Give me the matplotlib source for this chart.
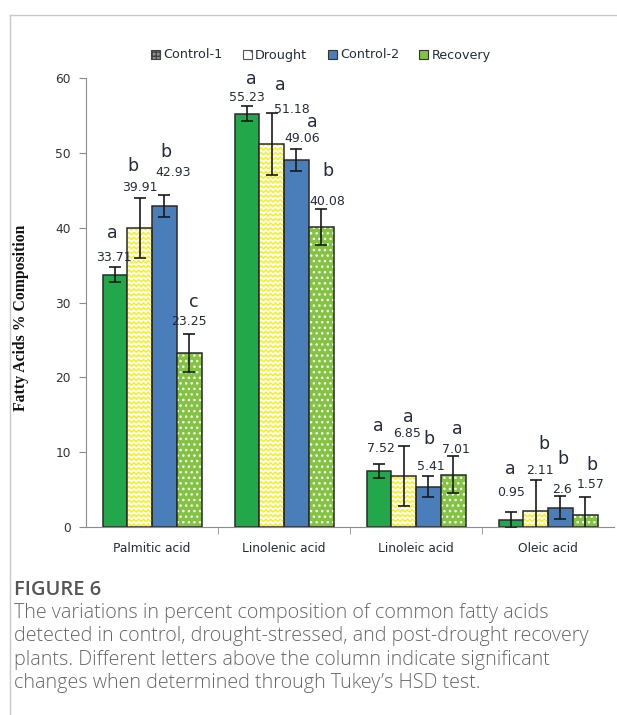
import numpy as np
import matplotlib.pyplot as plt
from matplotlib.patches import Patch
from matplotlib.collections import LineCollection
from matplotlib.lines import Line2D


# Fatty acid composition (%), mean and error per treatment

acids = ['Palmitic acid', 'Linolenic acid', 'Linoleic acid', 'Oleic acid']
series = ['Control-1', 'Drought', 'Control-2', 'Recovery']

control1 = [33.71, 55.23, 7.52, 0.95]
drought = [39.91, 51.18, 6.85, 2.11]
control2 = [42.93, 49.06, 5.41, 2.6]
recovery = [23.25, 40.08, 7.01, 1.57]

control1_err = [1.0, 1.0, 0.95, 1.05]
drought_err = [4.0, 4.1, 4.0, 4.2]
control2_err = [1.45, 1.5, 1.4, 1.5]
recovery_err = [2.6, 2.4, 2.5, 2.5]

control1_grp = ['a', 'a', 'a', 'a']
drought_grp = ['b', 'a', 'a', 'b']
control2_grp = ['b', 'a', 'b', 'b']
recovery_grp = ['c', 'b', 'a', 'b']

yticks = [0, 10, 20, 30, 40, 50, 60]


values = [control1, drought, control2, recovery]
errors = [control1_err, drought_err, control2_err, recovery_err]
groups = [control1_grp, drought_grp, control2_grp, recovery_grp]

# nudges for the number labels / letters (pixels, relative to the error bar top)
val_dx = [[-1, 0, 2, 0], [0, 20, 3, 4], [9, 6, 3, 2], [0, 6, 3, 5]]
val_dy = [[10, 9, 15, 20], [11, 4, 12, 9], [22, 10, 10, 7], [12, 8, 6, 12]]
let_dx = [[-3, 4, -1, -1], [-7, 9, 5, 8], [2, 16, 1, 3], [5, 7, 4, 7]]
let_dy = [[24, 18, 23, 23], [21, 24, 17, 27], [21, 17, 27, 30], [20, 30, 21, 20]]

green = '#22a84a'
blue = '#4a7ebb'
lgreen = '#82c341'
zig_yellow = '#f7ee1c'
edge = '#2a2a2a'
txt = '#232b3c'

W, H = 617, 715
fig = plt.figure(figsize=(W / 100, H / 100), dpi=100)

# page frame
fig.add_artist(Line2D([10 / W, 10 / W], [0, 1 - 15 / H], color='#c8c8c8', lw=1.0))
fig.add_artist(Line2D([10 / W, 1], [1 - 15 / H, 1 - 15 / H], color='#c8c8c8', lw=1.0))

ax = fig.add_axes([86 / W, (H - 527) / H, (614 - 86) / W, (527 - 78) / H])
ax.set_xlim(-0.5, 3.5)
ax.set_ylim(0, 60)

x = np.arange(len(acids))
bw = 0.1875
px_x = 1.0 / 132          # data units per pixel
px_y = 60.0 / 449

for j in range(4):
    xs = x + (j - 1.5) * bw
    v = values[j]
    if j == 0:
        ax.bar(xs, v, bw, color=green, edgecolor=edge, lw=1.1, zorder=2)
    elif j == 2:
        ax.bar(xs, v, bw, color=blue, edgecolor=edge, lw=1.1, zorder=2)
    elif j == 1:
        bars = ax.bar(xs, v, bw, color='white', edgecolor='none', lw=0, zorder=2)
        # zigzag fill
        for b in bars:
            x0, x1 = b.get_x(), b.get_x() + b.get_width()
            h = b.get_height()
            segs = []
            zx = np.arange(x0 - 3 * px_x, x1 + 3 * px_x, 2.4 * px_x)
            for y0 in np.arange(2 * px_y, h + 3 * px_y, 4.7 * px_y):
                zy = y0 + np.where(np.arange(len(zx)) % 2 == 0, 1.1, -1.1) * px_y
                segs.append(np.column_stack([zx, zy]))
            lc = LineCollection(segs, colors=zig_yellow, linewidths=1.1, zorder=2.5)
            ax.add_collection(lc)
            lc.set_clip_path(b)
        ax.bar(xs, v, bw, color='none', edgecolor=edge, lw=1.1, zorder=3)
    else:
        ax.bar(xs, v, bw, color=lgreen, edgecolor='none', lw=0, zorder=2)
        ax.bar(xs, v, bw, color='none', edgecolor='white', lw=0, hatch='...', zorder=2.5)
        ax.bar(xs, v, bw, color='none', edgecolor=edge, lw=1.1, zorder=3)

    ax.errorbar(xs, v, yerr=errors[j], fmt='none', ecolor='#1a1a1a',
                elinewidth=1.2, capsize=4, capthick=1.2, zorder=4)

    for i in range(4):
        top = v[i] + errors[j][i]
        ax.annotate(f'{v[i]:g}', (xs[i], top), textcoords='offset pixels',
                    xytext=(val_dx[j][i], val_dy[j][i]), ha='center', va='center',
                    fontsize=9, color=txt, zorder=5)
        ax.annotate(groups[j][i], (xs[i], top), textcoords='offset pixels',
                    xytext=(let_dx[j][i], val_dy[j][i] + let_dy[j][i]),
                    ha='center', va='center', fontsize=12.5, color=txt, zorder=5)

# axes styling
for s in ['top', 'right']:
    ax.spines[s].set_visible(False)
ax.spines['left'].set_color('#8c8c8c')
ax.spines['bottom'].set_color('#8c8c8c')
ax.set_yticks(yticks)
ax.tick_params(axis='y', colors='#8c8c8c', length=5, labelsize=8.8, labelcolor='#333333', pad=6)
ax.set_xticks(x)
ax.set_xticklabels(acids, fontsize=8.8, color=txt)
ax.set_xticks([0.5, 1.5, 2.5], minor=True)
ax.tick_params(axis='x', which='major', length=0, pad=11)
ax.tick_params(axis='x', which='minor', length=5, color='#8c8c8c')

ax.set_ylabel('Fatty Acids % Composition', family='Liberation Serif', fontweight='bold',
              fontsize=11.3, color='#111111')
ax.yaxis.set_label_coords((29 - 86) / 528, (527 - 318) / 449)

handles = [
    Patch(facecolor='#8f8f8f', edgecolor='#444444', hatch='++++', lw=0.8),
    Patch(facecolor='white', edgecolor='#555555', hatch='\\\\', lw=0.8),
    Patch(facecolor=blue, edgecolor='#333333', lw=0.8),
    Patch(facecolor=lgreen, edgecolor='#333333', lw=0.8),
]
fig.legend(handles, series, loc='center', bbox_to_anchor=(321 / W, 1 - 55 / H), ncol=4,
           frameon=False, fontsize=9.2, handlelength=0.7, handleheight=0.7,
           handletextpad=0.25, columnspacing=1.6, labelcolor=txt)

# caption
fig.text(14 / W, 1 - 590 / H, 'FIGURE 6', family='Open Sans', fontweight='semibold',
         fontsize=14.5, color='#555555', va='center')
caption = ['The variations in percent composition of common fatty acids',
           'detected in control, drought-stressed, and post-drought recovery',
           'plants. Different letters above the column indicate significant',
           'changes when determined through Tukey\u2019s HSD test.']
for k, line in enumerate(caption):
    fig.text(14 / W, 1 - (613 + 23.3 * k) / H, line, family='Open Sans', fontweight='light',
             fontsize=14.2, color='#666666', va='center')

fig.savefig('out.png', dpi=100)
